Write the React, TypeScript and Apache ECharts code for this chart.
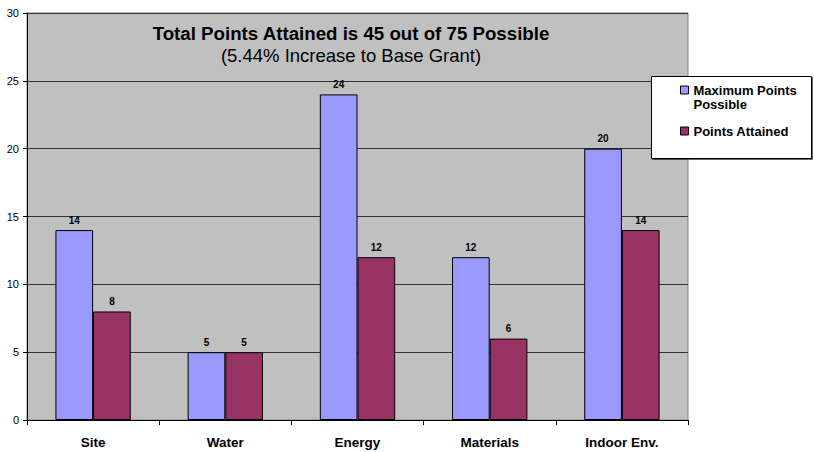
import React, { useEffect, useRef } from "react";
import * as echarts from "echarts";

const categories = ["Site", "Water", "Energy", "Materials", "Indoor Env."];
const maxPoints = [14, 5, 24, 12, 20];
const attained = [8, 5, 12, 6, 14];
const seriesNames = ["Maximum Points Possible", "Points Attained"];
const titleText = "Total Points Attained is 45 out of 75 Possible";
const subtitleText = "(5.44% Increase to Base Grant)";

export default function App() {
  const ref = useRef<HTMLDivElement>(null);
  useEffect(() => {
    if (!ref.current) return;
    const chart = echarts.init(ref.current, undefined, { renderer: "svg" });
    const font = "'Liberation Sans', Arial, sans-serif";
    chart.setOption({
      animation: false,
      backgroundColor: "#ffffff",
      textStyle: { fontFamily: font },
      title: {
        text: titleText,
        subtext: subtitleText,
        left: 346,
        top: 19,
        textAlign: "center",
        itemGap: 3,
        textStyle: { fontSize: 18.7, fontWeight: "bold", color: "#000", fontFamily: font },
        subtextStyle: { fontSize: 18.5, color: "#000", fontFamily: font },
      },
      graphic: [
        {
          type: "rect",
          left: 651,
          top: 76,
          shape: { width: 160, height: 82 },
          style: {
            fill: "#ffffff",
            stroke: "#000",
            lineWidth: 1,
            shadowColor: "rgba(0,0,0,0.6)",
            shadowOffsetX: 1,
            shadowOffsetY: 1,
            shadowBlur: 0,
          },
          z: 5,
        },
      ],
      legend: {
        orient: "vertical",
        left: 680,
        top: 69,
        padding: 0,
        itemWidth: 8,
        itemHeight: 8,
        itemGap: 13,
        z: 10,
        icon: "rect",
        itemStyle: { borderColor: "#000", borderWidth: 1 },
        data: [seriesNames[0], seriesNames[1]],
        formatter: (n: string) => (n === seriesNames[0] ? " \nMaximum Points\nPossible" : n),
        textStyle: {
          fontSize: 13,
          fontWeight: "bold",
          color: "#000",
          lineHeight: 14,
          fontFamily: font,
        },
      },
      grid: {
        left: 27,
        right: 126,
        top: 13,
        bottom: 32,
        show: true,
        backgroundColor: "#C0C0C0",
        borderColor: "#808080",
        borderWidth: 1,
      },
      xAxis: {
        type: "category",
        data: categories,
        axisLine: { lineStyle: { color: "#000", width: 1 } },
        axisTick: { show: true, length: 5, lineStyle: { color: "#000" } },
        axisLabel: { fontSize: 13.5, fontWeight: "bold", color: "#000", margin: 15, fontFamily: font },
      },
      yAxis: {
        type: "value",
        min: 0,
        max: 30,
        interval: 5,
        axisLine: { show: true, lineStyle: { color: "#000", width: 1 } },
        axisTick: { show: true, length: 4, lineStyle: { color: "#000" } },
        axisLabel: { fontSize: 11, color: "#000", margin: 8, fontFamily: font },
        splitLine: { show: true, lineStyle: { color: "#333", width: 1 } },
      },
      series: [
        {
          name: seriesNames[0],
          type: "bar",
          data: maxPoints,
          barWidth: "28.5%",
          barGap: "0%",
          itemStyle: { color: "#9999FF", borderColor: "#000", borderWidth: 1 },
          label: {
            show: true,
            position: "top",
            distance: 5,
            fontSize: 10,
            fontWeight: "bold",
            color: "#000",
            fontFamily: font,
          },
        },
        {
          name: seriesNames[1],
          type: "bar",
          data: attained,
          barWidth: "28.5%",
          itemStyle: { color: "#993366", borderColor: "#000", borderWidth: 1 },
          label: {
            show: true,
            position: "top",
            distance: 5,
            fontSize: 10,
            fontWeight: "bold",
            color: "#000",
            fontFamily: font,
          },
        },
      ],
    });
    return () => chart.dispose();
  }, []);
  return (
    <div
      ref={ref}
      style={{ position: "fixed", left: 0, top: 0, width: 814, height: 452 }}
    />
  );
}
